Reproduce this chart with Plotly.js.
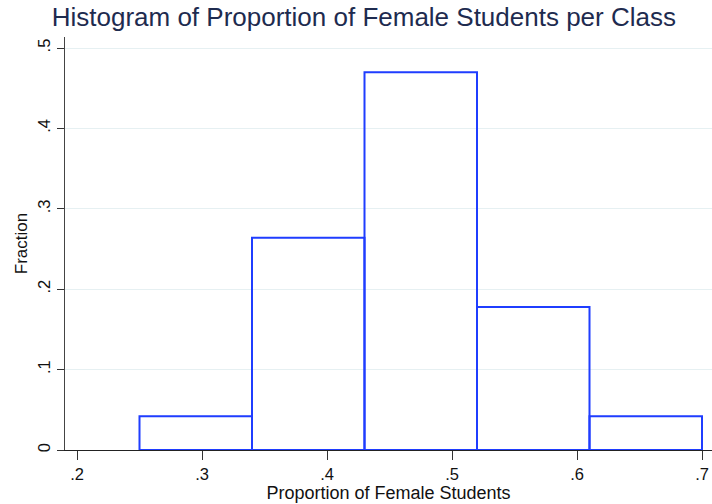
<!DOCTYPE html>
<html>
<head>
<meta charset="utf-8">
<script src="https://cdn.plot.ly/plotly-3.0.1.min.js"></script>
<style>html,body{margin:0;padding:0;background:#fff;}#chart{width:712px;height:504px;}</style>
</head>
<body>
<div id="chart"></div>
<script>
const binCenters = [0.295, 0.385, 0.475, 0.565, 0.655];
const binWidths = [0.09, 0.09, 0.09, 0.09, 0.09];
const fractions = [0.042, 0.264, 0.470, 0.178, 0.042];
const xTickVals = [0.2, 0.3, 0.4, 0.5, 0.6, 0.7];
const xTickText = ['.2', '.3', '.4', '.5', '.6', '.7'];
const yTickVals = [0, 0.1, 0.2, 0.3, 0.4, 0.5];
const yTickText = ['0', '.1', '.2', '.3', '.4', '.5'];

const font = 'Liberation Sans, Arial, Helvetica, sans-serif';
Plotly.newPlot('chart', [{
  type: 'bar',
  x: binCenters,
  y: fractions,
  width: binWidths,
  marker: {color: 'rgba(255,255,255,0)', line: {color: '#1f3dff', width: 2}},
  hoverinfo: 'x+y'
}], {
  width: 712, height: 504,
  margin: {l: 65, r: 0, t: 37, b: 54, pad: 0},
  paper_bgcolor: '#fff', plot_bgcolor: '#fff',
  showlegend: false,
  title: {text: 'Histogram of Proportion of Female Students per Class', x: 0.511, xanchor: 'center', y: 0.966, yanchor: 'middle',
          font: {family: font, size: 26, color: '#1e2b4f'}},
  xaxis: {range: [0.1904, 0.708], tickvals: xTickVals, ticktext: xTickText, ticks: 'outside', ticklen: 9, tickcolor: '#333',
          showgrid: false, zeroline: false, showline: true, linecolor: '#222', linewidth: 1.3,
          tickfont: {family: font, size: 16.5, color: '#111'},
          title: {text: 'Proportion of Female Students', standoff: 3, font: {family: font, size: 18, color: '#111'}}},
  yaxis: {range: [0, 0.5137], tickvals: yTickVals, ticktext: yTickText, ticks: 'outside', ticklen: 7, tickcolor: '#333', tickangle: -90,
          showgrid: true, gridcolor: '#e6f0f2', gridwidth: 1, zeroline: false, showline: true, linecolor: '#444', linewidth: 1.2,
          tickfont: {family: font, size: 16.5, color: '#111'},
          title: {text: 'Fraction', standoff: 3, font: {family: font, size: 17, color: '#111'}}},
  bargap: 0
}, {displayModeBar: false, staticPlot: true});
</script>
</body>
</html>
